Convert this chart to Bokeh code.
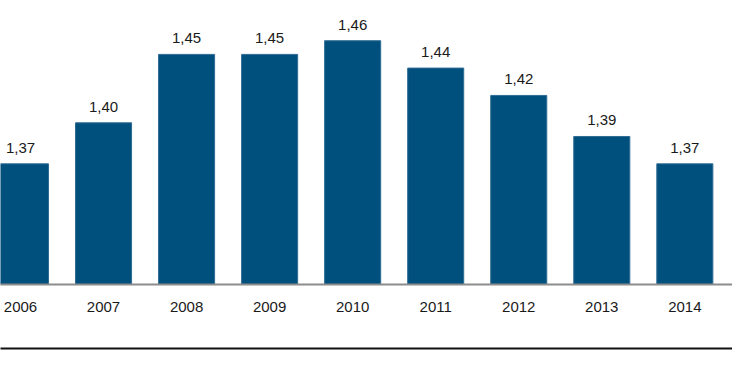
from bokeh.plotting import figure
from bokeh.models import ColumnDataSource, LabelSet, FixedTicker, LinearAxis, Range1d
from bokeh.core.properties import value
from bokeh.embed import file_html
from bokeh.resources import INLINE

years = ["2006", "2007", "2008", "2009", "2010", "2011", "2012", "2013", "2014", "2015"]
values = [1.37, 1.40, 1.45, 1.45, 1.46, 1.44, 1.42, 1.39, 1.37, 1.35]
labels = ["1,37", "1,40", "1,45", "1,45", "1,46", "1,44", "1,42", "1,39", "1,37"]

idx = list(range(len(years)))
fills = ["#00507D"] * 9 + ["#F7F9FA"]
edges = ["#2F6C94"] * 9 + ["#D5DEE6"]

src = ColumnDataSource(dict(x=idx, top=values, fill=fills, edge=edges))
lab_src = ColumnDataSource(dict(x=idx[:len(labels)], top=values[:len(labels)], lab=labels))

FONT = "Liberation Sans"

p = figure(width=732, height=381, frame_width=732, frame_height=284,
           x_range=Range1d(-0.2408, 8.574), y_range=Range1d(1.2818, 1.4894),
           output_backend="svg", toolbar_location=None,
           min_border_left=0, min_border_right=0, min_border_top=0, min_border_bottom=97)

p.vbar(x="x", top="top", bottom=0, width=0.675, source=src,
       fill_color="fill", line_color="edge", line_width=1)

p.add_layout(LabelSet(x="x", y="top", text="lab", source=lab_src, y_offset=11,
                      text_align="center", text_baseline="alphabetic",
                      text_font=value(FONT), text_font_size=value("15px"),
                      text_color="#1a1a1a"))

p.yaxis.visible = False
p.grid.visible = False
p.outline_line_color = None
p.background_fill_color = "white"
p.border_fill_color = "white"

xa = p.xaxis[0]
xa.ticker = FixedTicker(ticks=idx[:9])
xa.major_label_overrides = {i: y for i, y in zip(idx, years)}
xa.major_tick_line_color = None
xa.minor_tick_line_color = None
xa.axis_line_color = "#8c8c8c"
xa.axis_line_width = 2
xa.major_label_standoff = 11
xa.major_label_text_font = FONT
xa.major_label_text_font_size = "15px"
xa.major_label_text_color = "#1a1a1a"
xa.axis_label = "\u00a0"
xa.axis_label_text_font_size = "17px"
xa.axis_label_standoff = 12

ax2 = LinearAxis(ticker=FixedTicker(ticks=[]), major_tick_line_color=None,
                 minor_tick_line_color=None, major_label_text_font_size="0px",
                 axis_line_color="#111111", axis_line_width=2)
p.add_layout(ax2, "below")

open("out.html", "w").write(file_html(p, INLINE))
